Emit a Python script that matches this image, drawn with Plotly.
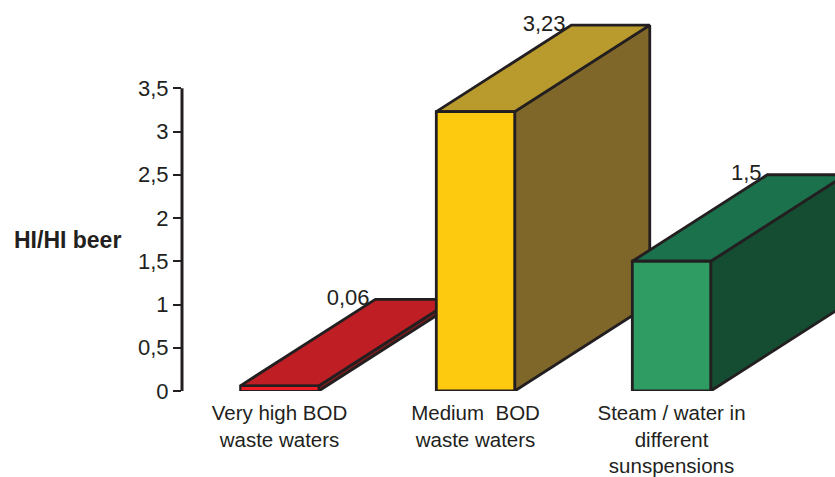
import plotly.graph_objects as go

categories = ["Very high BOD<br>waste waters", "Medium  BOD<br>waste waters", "Steam / water in<br>different<br>sunspensions"]
values = [0.06, 3.23, 1.5]
value_labels = ["0,06", "3,23", "1,5"]
y_ticks = [0, 0.5, 1, 1.5, 2, 2.5, 3, 3.5]
y_tick_labels = ["0", "0,5", "1", "1,5", "2", "2,5", "3", "3,5"]
front_colors = ["#ed1c24", "#fdca0f", "#2f9c63"]
top_colors = ["#be1e24", "#b99a2d", "#1a714b"]
side_colors = ["#7f1d1d", "#7f6629", "#154d32"]

BAR_W = 0.4
DX = 0.689   # depth in category units
DY = 1.0     # depth in value units
INK = "#231f20"
FONT = "Liberation Sans"

fig = go.Figure()


def poly(xs, ys, color, width=2.8):
    fig.add_trace(go.Scatter(
        x=xs + xs[:1], y=ys + ys[:1], mode="lines", fill="toself", fillcolor=color,
        line=dict(color=INK, width=width), cliponaxis=False, hoverinfo="skip", showlegend=False,
    ))


for i, v in enumerate(values):
    l, r = i - BAR_W / 2, i + BAR_W / 2
    fig.add_trace(go.Scatter(
        x=[l + DX - 0.03], y=[v + DY], mode="text", text=[value_labels[i]], textposition="middle left",
        textfont=dict(family=FONT, size=22, color=INK), cliponaxis=False, showlegend=False, hoverinfo="skip",
    ))
    poly([r, r + DX, r + DX, r], [0, DY, v + DY, v], side_colors[i])
    poly([l, r, r + DX, l + DX], [v, v, v + DY, v + DY], top_colors[i])
    poly([l, r, r, l], [0, 0, v, v], front_colors[i], width=2.2 if v < 0.2 else 2.8)

fig.update_layout(
    width=835, height=477, margin=dict(l=182, r=0, t=10, b=85.5),
    paper_bgcolor="white", plot_bgcolor="white", showlegend=False,
    font=dict(family=FONT, color=INK),
    xaxis=dict(range=[-0.4974, 2.834], tickmode="array", tickvals=[0, 1, 2], ticktext=categories,
               showgrid=False, zeroline=False, showline=False, ticks="outside", ticklen=3.5,
               tickcolor="rgba(0,0,0,0)",
               tickfont=dict(family=FONT, size=20.5, color=INK), tickangle=0, automargin=False),
    yaxis=dict(range=[0, 4.405], tickmode="array", tickvals=y_ticks, ticktext=y_tick_labels,
               showgrid=False, zeroline=False, showline=False,
               ticks="outside", ticklen=8, tickwidth=2, tickcolor=INK,
               tickfont=dict(family=FONT, size=22, color=INK), automargin=False),
    shapes=[dict(type="line", xref="paper", yref="y", x0=0, x1=0, y0=0, y1=y_ticks[-1],
                 line=dict(color=INK, width=3), layer="above")],
    annotations=[dict(text="<b>HI/HI beer</b>", xref="paper", yref="y", x=-0.1761, y=1.75,
                      xanchor="center", yanchor="middle", showarrow=False,
                      font=dict(family=FONT, size=23, color=INK))],
)

fig.write_html("out.html", config=dict(displayModeBar=False),
               post_script="document.body.style.margin='0';document.body.style.overflow='hidden';")
